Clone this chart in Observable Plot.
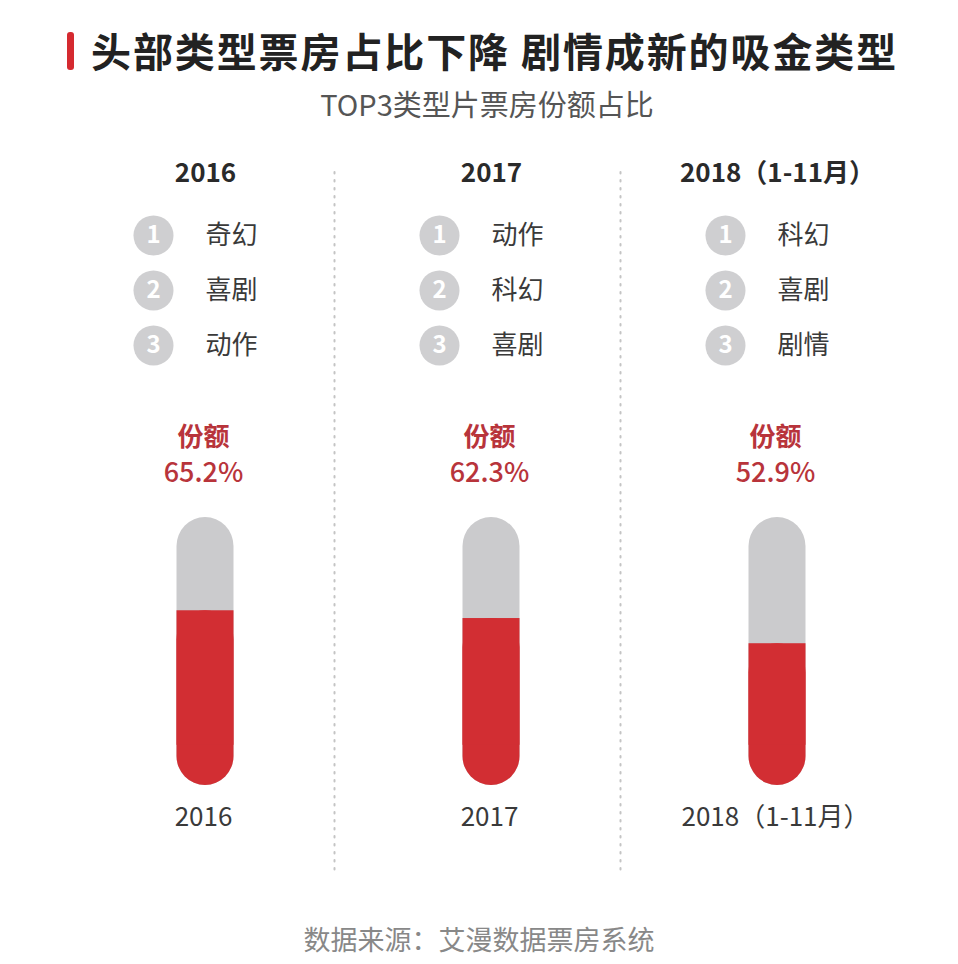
<!DOCTYPE html>
<html>
<head>
<meta charset="utf-8">
<script src="https://cdn.jsdelivr.net/npm/d3@7"></script>
<script src="https://cdn.jsdelivr.net/npm/@observablehq/plot@0.6"></script>
<style>
  html, body { margin: 0; padding: 0; background: #fff; }
  body { width: 958px; height: 964px; position: relative; overflow: hidden; font-family: "Noto Sans CJK SC", "Noto Sans", sans-serif; }
  #bar { position: absolute; left: 67px; top: 32px; width: 7px; height: 38px; background: #d52a30; border-radius: 3px; }
  #title { position: absolute; left: 91px; top: 26px; font-size: 40px; line-height: 48px; font-weight: 700; color: #222; white-space: nowrap; letter-spacing: 1.9px; }
  #subtitle { position: absolute; left: 0; width: 958px; top: 85px; text-align: center; font-size: 29px; line-height: 36px; color: #555; padding-left: 8px; }
  #chart { position: absolute; left: 0; top: 150px; }
  #source { position: absolute; left: 0; width: 958px; top: 921px; text-align: center; font-size: 27px; line-height: 36px; color: #888; }
</style>
</head>
<body>
<div id="bar"></div>
<div id="title">头部类型票房占比下降 剧情成新的吸金类型</div>
<div id="subtitle">TOP3类型片票房份额占比</div>
<div id="chart"></div>
<div id="source">数据来源：艾漫数据票房系统</div>
<script>
// ---- data ----
const years = ["2016", "2017", "2018"];
const yearLabels = ["2016", "2017", "2018（1-11月）"];
const shares = [65.2, 62.3, 52.9];
const top1 = ["奇幻", "动作", "科幻"];
const top2 = ["喜剧", "科幻", "喜剧"];
const top3 = ["动作", "喜剧", "剧情"];

// ---- derived tables ----
const rows = years.map((y, i) => ({year: y, label: yearLabels[i], share: shares[i]}));
const rankLists = [top1, top2, top3];
const ranks = rankLists.flatMap((list, r) => years.map((y, i) => ({year: y, rank: r + 1, genre: list[i]})));

const W = 958, H = 730;
const font = "Noto Sans CJK SC";
const red = "#d22e33";
const darkRed = "#b8343b";
const grey = "#cbcbcd";

const rankMarks = [1, 2, 3].flatMap(r => {
  const data = ranks.filter(d => d.rank === r);
  const dy = 85 + 55 * (r - 1);
  return [
    Plot.dot(data, {x: "year", frameAnchor: "top", dy, dx: -52, r: 20, fill: "#cfcfd1", stroke: "none"}),
    Plot.text(data, {x: "year", text: d => String(d.rank), frameAnchor: "top", lineAnchor: "middle", dy, dx: -52, fill: "#fff", fontSize: 24, fontWeight: 700, fontFamily: font}),
    Plot.text(data, {x: "year", text: "genre", frameAnchor: "top", lineAnchor: "middle", dy, dx: 0, textAnchor: "start", fill: "#3a3a3a", fontSize: 26, fontFamily: font})
  ];
});

const chart = Plot.plot({
  width: W,
  height: H,
  marginTop: 0,
  marginBottom: 0,
  marginLeft: 61,
  marginRight: 37,
  style: {background: "transparent", overflow: "visible"},
  x: {type: "band", domain: years, padding: 0, axis: null},
  y: {domain: [0, 100], range: [635, 367], axis: null},
  marks: [
    // dotted separators
    Plot.ruleX(years.slice(1), {x: d => d, dx: -157, insetTop: 22, insetBottom: 8, stroke: "#c4c4c4", strokeWidth: 2, strokeDasharray: "1.5,6.5", strokeLinecap: "round"}),
    // year headers
    Plot.text(rows, {x: "year", text: "label", frameAnchor: "top", lineAnchor: "middle", dy: 23, dx: 0, fill: "#2a2a2a", fontSize: 26, fontWeight: 700, fontFamily: font}),
    ...rankMarks,
    // 份额 label and value
    Plot.text(rows, {x: "year", text: () => "份额", frameAnchor: "top", lineAnchor: "middle", dy: 287, dx: -2, fill: darkRed, fontSize: 26, fontWeight: 700, fontFamily: font}),
    Plot.text(rows, {x: "year", text: d => d.share.toFixed(1) + "%", frameAnchor: "top", lineAnchor: "middle", dy: 323, dx: -2, fill: darkRed, fontSize: 27, fontWeight: 500, fontFamily: font}),
    // thermometer background
    Plot.barY(rows, {x: "year", y1: 0, y2: 100, fill: grey, insetLeft: 114.5, insetRight: 114.5, rx: 29, ry: 29}),
    // red fill: rounded bottom + flat top
    Plot.barY(rows, {x: "year", y1: 0, y2: "share", fill: red, insetLeft: 114.5, insetRight: 114.5, rx: 29, ry: 29}),
    Plot.barY(rows, {x: "year", y1: 15, y2: "share", fill: red, insetLeft: 114.5, insetRight: 114.5}),
    // bottom labels
    Plot.text(rows, {x: "year", text: "label", frameAnchor: "bottom", lineAnchor: "middle", dy: -63, dx: -2, fill: "#3a3a3a", fontSize: 26, fontFamily: font})
  ]
});
document.getElementById("chart").appendChild(chart);
</script>
</body>
</html>
